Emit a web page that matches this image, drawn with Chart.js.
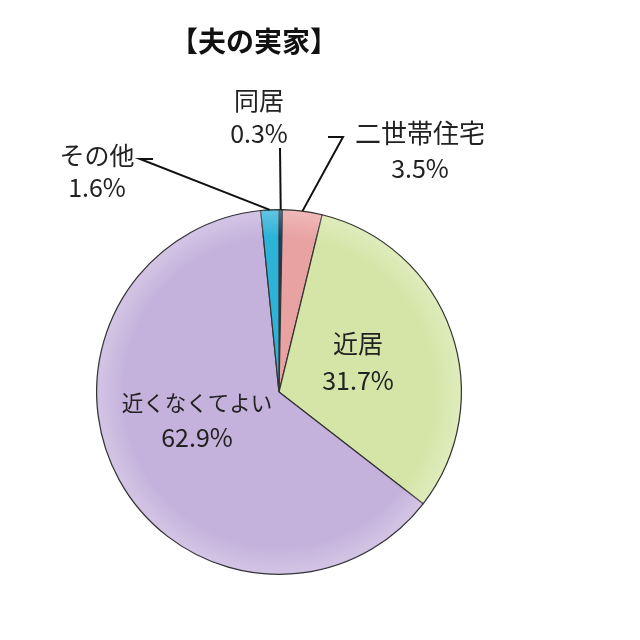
<!DOCTYPE html>
<html>
<head>
<meta charset="utf-8">
<script src="https://cdn.jsdelivr.net/npm/chart.js@4.4.1/dist/chart.umd.min.js"></script>
<style>
  html, body { margin: 0; padding: 0; background: #fff; }
  #wrap { width: 640px; height: 640px; }
</style>
</head>
<body>
<div id="wrap"><canvas id="graficoPie"></canvas></div>
<script>
// Dados
const categorias = ['同居', '二世帯住宅', '近居', '近くなくてよい', 'その他'];
const valores = [0.3, 3.5, 31.7, 62.9, 1.6];
const cores = ['#1d3c63', '#e9a2a2', '#d5e5a7', '#c5b2dc', '#2db2d8'];

const FONTE = '"Noto Sans CJK JP", "Noto Sans", sans-serif';

// posições dos rótulos (px), tamanho e linhas de chamada
const rotulos = [
  { x: 259, y: 100, yv: 133, tam: 25, linha: [[280, 148]] },
  { x: 420, y: 133, yv: 168, tam: 26, linha: [[343, 137], [328, 137]] },
  { x: 358, y: 343, yv: 380, tam: 25 },
  { x: 197, y: 403, yv: 437, tam: 21.5 },
  { x: 97, y: 155, yv: 187, tam: 25, linha: [[140, 159], [153, 159]] }
];

// sombreado leve nos setores
const sombra = {
  id: 'sombra',
  afterDatasetsDraw(chart) {
    const ctx = chart.ctx;
    const a0 = chart.getDatasetMeta(0).data[0];
    ctx.save();
    const g = ctx.createRadialGradient(a0.x, a0.y, a0.outerRadius * 0.85, a0.x, a0.y, a0.outerRadius);
    g.addColorStop(0, 'rgba(255,255,255,0)');
    g.addColorStop(1, 'rgba(255,255,255,0.25)');
    ctx.beginPath();
    ctx.arc(a0.x, a0.y, a0.outerRadius - 1, 0, Math.PI * 2);
    ctx.fillStyle = g;
    ctx.fill();
    ctx.restore();
  }
};

// rótulos e título
const textos = {
  id: 'textos',
  afterDraw(chart) {
    const ctx = chart.ctx;
    const arcs = chart.getDatasetMeta(0).data;
    ctx.save();
    ctx.textAlign = 'center';
    ctx.textBaseline = 'middle';
    ctx.fillStyle = '#111';
    ctx.font = 'bold 28px ' + FONTE;
    ctx.fillText('【夫の実家】', 254, 41);

    ctx.strokeStyle = '#111';
    ctx.lineWidth = 2;
    arcs.forEach((arc, i) => {
      const r = rotulos[i];
      if (r.linha) {
        const meio = (arc.startAngle + arc.endAngle) / 2;
        const px = arc.x + Math.cos(meio) * arc.outerRadius;
        const py = arc.y + Math.sin(meio) * arc.outerRadius;
        ctx.beginPath();
        ctx.moveTo(px, py);
        r.linha.forEach(p => ctx.lineTo(p[0], p[1]));
        ctx.stroke();
      }
      ctx.fillStyle = '#222';
      ctx.font = r.tam + 'px ' + FONTE;
      ctx.fillText(categorias[i], r.x, r.y);
      ctx.font = '25px ' + FONTE;
      ctx.fillText(valores[i].toFixed(1) + '%', r.x, r.yv);
    });
    ctx.restore();
  }
};

const ctxPie = document.getElementById('graficoPie').getContext('2d');
new Chart(ctxPie, {
  type: 'pie',
  data: {
    labels: categorias,
    datasets: [{
      data: valores,
      backgroundColor: cores,
      borderColor: '#333',
      borderWidth: 1.2
    }]
  },
  options: {
    responsive: true,
    maintainAspectRatio: false,
    animation: false,
    layout: { padding: { left: 96, right: 178, top: 209, bottom: 65 } },
    plugins: {
      legend: { display: false },
      tooltip: { enabled: false }
    }
  },
  plugins: [sombra, textos]
});
</script>
</body>
</html>
